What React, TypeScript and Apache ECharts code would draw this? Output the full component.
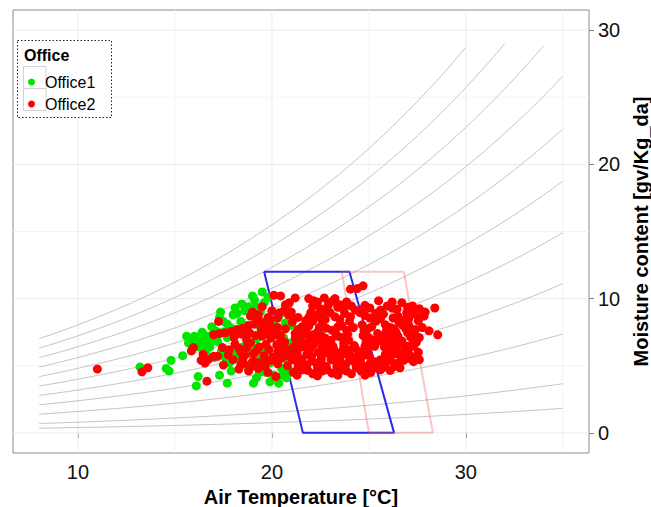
import React, { useEffect, useRef } from "react";
import * as echarts from "echarts";

// Psychrometric background: saturation vapour pressure (Pa) per air temperature (°C)
const tempGrid = [8, 9, 10, 11, 12, 13, 14, 15, 16, 17, 18, 19, 20, 21, 22, 23, 24, 25, 26, 27, 28, 29, 30, 31, 32, 33, 34, 35];
const satPressure = [1071, 1146, 1226, 1311, 1400, 1495, 1596, 1702, 1815, 1934, 2060, 2193, 2334, 2482, 2639, 2804, 2978, 3162, 3355, 3559, 3774, 3999, 4237, 4486, 4749, 5024, 5314, 5617];
const atmPressure = 96000;
const rhLevels = [5, 10, 20, 30, 40, 50, 60, 70, 80, 90, 100];
const moistureCap = 30;

const xRange = [6.65, 36.35];
const yRange = [-1.5, 31.5];
const xTicks = [10, 20, 30];
const yTicks = [0, 10, 20, 30];
const majorGridX = [10, 20, 30];
const minorGridX = [15, 25, 35];
const majorGridY = [0, 10, 20, 30];
const minorGridY = [5, 15, 25];

const zoneBlue = [[19.6, 12], [24.0, 12], [26.3, 0], [21.6, 0], [19.6, 12]];
const zonePink = [[23.6, 12], [26.8, 12], [28.3, 0], [25.0, 0], [23.6, 12]];

const office1 = [
  [13.2, 4.9], [14.55, 4.8], [14.7, 4.6], [14.8, 5.4], [15.4, 5.75], [16.2, 4.2], [16.1, 3.5], [17.3, 4.3], [17.7, 3.7],
  [19.05, 3.7], [19.2, 4.1], [19.9, 3.8], [20.35, 3.7], [20.75, 4.1], [20.1, 4.3], [18.8, 4.8],
  [15.8, 7.0], [15.9, 6.8], [16.0, 7.2], [16.1, 6.9], [16.3, 7.1], [15.7, 6.7], [16.4, 6.6], [16.2, 6.4], [15.9, 6.5],
  [16.6, 7.2], [16.7, 6.8], [16.8, 6.4], [17.0, 6.9], [17.2, 6.8], [17.4, 6.1], [17.7, 7.1], [17.3, 8.6], [17.7, 8.1],
  [18.0, 8.8], [18.4, 8.3], [18.6, 9.1], [18.1, 6.1], [18.2, 5.6], [17.8, 5.2], [17.5, 7.5], [17.9, 7.8], [18.3, 7.4],
  [18.6, 8.0], [18.9, 8.7], [19.1, 9.9], [19.5, 10.5], [19.2, 9.4], [19.6, 9.7], [19.8, 10.1], [19.4, 9.0], [18.8, 9.4],
  [17.1, 7.6], [16.9, 7.9], [17.5, 8.3], [18.2, 8.9], [16.6, 5.9], [17.0, 5.6], [17.6, 5.6], [18.5, 6.4], [18.8, 5.9],
  [19.1, 6.3], [19.3, 5.5], [19.6, 6.0], [19.9, 5.2], [20.2, 5.6], [20.5, 4.8], [20.9, 4.6], [19.5, 4.8], [19.7, 4.5],
  [18.9, 5.1], [20.3, 6.6], [20.6, 7.1], [20.0, 7.6], [19.7, 8.3], [20.4, 8.8], [20.8, 9.3], [21.0, 8.0], [21.2, 6.2],
  [20.7, 5.6], [19.2, 7.0], [18.7, 7.2], [19.4, 7.9], [20.1, 8.3], [16.4, 7.5], [16.9, 7.3], [18.1, 9.3], [17.9, 4.6],
  [19.35, 4.5], [20.55, 4.3], [16.5, 6.2], [15.6, 7.2], [17.35, 9.0], [18.45, 9.6], [19.0, 10.2], [20.7, 8.2], [20.85, 6.7]
];

const office2 = [
  // scattered left part
  [11.0, 4.75], [13.3, 4.55], [13.6, 4.85], [15.85, 6.1], [15.95, 6.35], [16.35, 5.4], [16.55, 5.2], [16.45, 5.85],
  [16.7, 5.45], [17.0, 5.7], [17.2, 5.7], [17.5, 5.05], [18.0, 5.45], [16.65, 3.85], [17.25, 8.3],
  [17.0, 7.3], [17.3, 7.4], [17.6, 7.45], [17.9, 7.55], [18.2, 7.7], [18.5, 7.8], [18.8, 8.0], [19.1, 8.1], [19.4, 8.3],
  [18.3, 6.3], [18.6, 5.8], [18.8, 4.6], [19.3, 4.8], [19.6, 5.3], [18.4, 5.1], [18.9, 6.7], [19.2, 6.1], [19.5, 7.2],
  [19.7, 6.6], [19.9, 7.7], [18.7, 6.9], [18.1, 6.6], [17.8, 6.2], [18.5, 5.5], [19.0, 5.3], [19.8, 4.5], [20.2, 4.2],
  [20.0, 9.1], [19.8, 8.6], [19.5, 9.4], [19.0, 9.0], [18.9, 8.7], [19.3, 8.8],
  [18.4, 6.0], [18.7, 6.35], [19.05, 5.9], [19.35, 6.4], [19.6, 5.75], [19.85, 6.2], [18.55, 5.15], [18.95, 4.95],
  [19.25, 5.25], [19.65, 4.95], [19.95, 5.4], [18.3, 4.75], [17.75, 5.8], [17.45, 6.35], [18.05, 7.1], [18.45, 7.35],
  [18.85, 7.45], [19.15, 7.25], [19.45, 7.65], [19.75, 7.35], [19.65, 8.0], [19.9, 8.5], [19.2, 8.55],
  // main body
  [20.45, 10.2], [20.9, 9.7], [21.2, 10.05], [21.9, 10.0], [22.35, 9.75], [22.7, 10.05], [23.1, 9.8],
  [23.5, 9.55], [22.1, 9.45], [23.85, 9.75], [25.5, 9.85], [26.2, 9.75], [24.05, 10.7], [24.4, 10.75], [24.7, 10.95], [20.1, 10.25],
  [20.65, 9.15], [22.5, 9.25], [23.0, 8.95], [23.4, 9.35], [24.1, 9.45], [24.55, 8.95],
  [25.05, 9.3], [25.35, 8.9], [25.95, 9.45], [26.45, 9.2], [26.95, 8.95], [27.6, 9.25], [28.4, 9.3], [27.25, 9.45],
  [24.8, 9.5], [26.7, 9.7], [22.9, 9.5],
  [20.3, 8.55], [20.85, 8.8], [21.35, 8.6], [21.75, 8.35], [22.25, 8.8], [22.75, 8.45], [23.25, 8.65], [23.75, 8.9],
  [24.8, 8.75], [25.35, 8.3], [25.75, 8.85], [26.25, 8.55], [26.8, 8.4], [27.3, 8.85], [27.85, 8.7], [27.55, 8.35],
  [21.05, 8.25], [21.55, 7.9], [22.1, 8.3], [22.45, 7.85], [23.6, 8.0], [24.0, 8.3],
  [24.65, 8.05], [25.15, 7.9], [26.1, 7.85], [26.55, 8.25], [27.05, 8.0], [27.75, 7.85], [19.9, 8.1],
  [20.15, 7.55], [20.7, 7.75], [21.2, 7.4], [21.75, 7.65], [22.35, 7.5], [22.8, 7.8], [23.3, 7.35], [23.85, 7.65],
  [24.95, 7.75], [25.45, 7.4], [25.9, 7.6], [26.4, 7.5], [26.9, 7.75], [27.35, 7.35], [28.55, 7.3],
  [19.95, 7.05], [20.45, 7.25], [21.45, 7.15], [21.95, 7.0], [22.55, 7.25], [23.05, 6.9], [23.6, 7.1],
  [24.7, 7.25], [25.2, 6.9], [25.75, 7.15], [26.25, 7.0], [26.7, 6.85], [27.15, 7.15],
  [20.25, 6.55], [20.65, 6.75], [21.15, 6.45], [21.6, 6.7], [22.15, 6.55], [22.65, 6.75], [23.15, 6.45], [23.7, 6.65],
  [24.25, 6.5], [24.85, 6.75], [25.3, 6.45], [25.85, 6.65], [26.35, 6.55], [26.95, 6.45], [27.45, 6.75],
  [20.3, 6.05], [20.85, 6.2], [21.3, 5.95], [21.85, 6.25], [22.4, 6.0], [22.95, 6.3], [23.4, 5.95], [23.95, 6.2],
  [24.5, 6.05], [24.95, 6.3], [26.05, 6.2], [26.6, 6.05], [27.05, 6.3], [27.55, 6.0],
  [20.05, 5.65], [20.5, 5.55], [21.0, 5.8], [21.55, 5.5], [22.05, 5.7], [22.55, 5.55], [23.0, 5.8], [23.5, 5.5],
  [24.05, 5.75], [24.6, 5.55], [25.0, 5.75], [25.6, 5.45], [26.1, 5.7], [26.65, 5.55], [27.1, 5.8], [27.6, 5.45],
  [20.3, 5.15], [20.8, 5.0], [21.3, 5.3], [21.8, 5.05], [22.3, 5.2], [22.8, 4.95], [23.3, 5.3], [23.8, 5.05],
  [24.3, 5.2], [24.8, 4.95], [25.3, 5.3], [25.8, 5.1], [26.3, 5.2], [26.8, 5.4], [27.3, 5.3],
  [21.1, 4.5], [21.6, 4.7], [22.1, 4.4], [22.6, 4.6], [23.1, 4.45], [23.6, 4.7], [24.1, 4.4], [24.6, 4.6],
  [25.1, 4.5], [25.6, 4.7], [26.1, 4.65], [26.6, 4.85], [21.3, 4.3], [23.4, 4.3], [24.8, 4.3], [22.35, 4.25],
  // filling between the rows
  [20.7, 9.55], [22.15, 9.85], [22.95, 9.65], [23.25, 10.0],
  [20.4, 8.95], [21.0, 9.0], [22.0, 8.95], [22.7, 9.05], [23.7, 9.2], [24.3, 9.15], [24.75, 9.3],
  [25.6, 9.15], [26.2, 9.3], [27.0, 9.35], [27.9, 9.0],
  [21.1, 8.5], [21.9, 8.6], [22.5, 8.55], [23.5, 8.45], [24.05, 8.65],
  [25.05, 8.55], [25.6, 8.5], [26.5, 8.7], [27.05, 8.5], [27.6, 8.6],
  [20.3, 7.85], [21.35, 7.7], [21.9, 7.95], [22.6, 8.1], [23.1, 7.65], [23.4, 7.9], [24.2, 7.85],
  [24.75, 7.6], [25.85, 8.05], [26.3, 7.75], [26.75, 8.0], [27.4, 7.7], [28.1, 7.6],
  [20.2, 7.3], [21.2, 7.05], [21.7, 7.35], [22.1, 7.3], [22.75, 7.05], [23.4, 7.2], [23.9, 7.35],
  [25.0, 7.1], [25.5, 7.3], [26.0, 7.35], [26.5, 7.2], [27.0, 7.45], [27.6, 7.1],
  [20.45, 6.85], [21.4, 6.85], [21.9, 6.7], [22.4, 6.9], [22.9, 6.6], [23.95, 6.9],
  [25.05, 6.55], [25.55, 6.85], [26.1, 6.8], [26.6, 6.7], [27.2, 6.55],
  [20.55, 6.35], [21.05, 6.25], [21.55, 6.4], [22.0, 6.3], [22.6, 6.4], [23.2, 6.2], [23.7, 6.35], [24.3, 6.3],
  [24.8, 6.45], [25.8, 6.4], [26.35, 6.3], [26.85, 6.2], [27.3, 6.45],
  [20.35, 5.85], [20.8, 5.75], [21.3, 5.6], [21.8, 5.85], [22.8, 6.0], [23.25, 5.65], [23.75, 5.9],
  [24.3, 5.6], [24.85, 5.85], [25.85, 5.85], [26.35, 5.9], [26.9, 5.7], [27.35, 5.6],
  [21.05, 5.45], [21.55, 5.2], [22.05, 5.35], [22.55, 5.2], [23.05, 5.45], [23.55, 5.25], [24.0, 5.4],
  [24.55, 5.3], [25.05, 5.15], [25.55, 5.35], [26.05, 5.4], [26.55, 5.15], [27.05, 5.55], [27.5, 5.6],
  [21.35, 4.9], [21.85, 4.65], [22.35, 4.85], [22.85, 4.7], [23.35, 4.9], [23.85, 4.6], [24.35, 4.85],
  [24.85, 4.7], [25.35, 4.85], [25.85, 4.9], [26.35, 4.95]
];

const FONT = "'Liberation Sans', Arial, Helvetica, sans-serif";

function gridLines(values: number[], vertical: boolean, color: string) {
  return values.map((v) => ({
    type: "line",
    data: vertical ? [[v, yRange[0]], [v, yRange[1]]] : [[xRange[0], v], [xRange[1], v]],
    showSymbol: false,
    silent: true,
    lineStyle: { color, width: 1 },
    z: 0,
  }));
}

export default function App() {
  const ref = useRef<HTMLDivElement>(null);
  useEffect(() => {
    if (!ref.current) return;
    const chart = echarts.init(ref.current, undefined, { renderer: "svg" });

    const curves = rhLevels.map((rh) => ({
      type: "line",
      name: "RH" + rh,
      data: tempGrid
        .map((t, i) => {
          const pv = (rh / 100) * satPressure[i];
          return [t, (622 * pv) / (atmPressure - pv)];
        })
        .filter((p) => p[1] <= moistureCap),
      showSymbol: false,
      smooth: 0.3,
      silent: true,
      lineStyle: { color: "#c4c4c4", width: 1 },
      z: 1,
    }));

    chart.setOption({
      animation: false,
      backgroundColor: "#ffffff",
      textStyle: { fontFamily: FONT },
      grid: {
        left: 13,
        right: 62,
        top: 10,
        bottom: 54,
        containLabel: false,
        outerBoundsMode: "none",
        show: true,
        borderColor: "#8c8c8c",
        borderWidth: 1,
        backgroundColor: "transparent",
      },
      xAxis: {
        type: "value",
        min: xRange[0],
        max: xRange[1],
        name: "Air Temperature [°C]",
        nameLocation: "middle",
        nameGap: 26,
        nameTextStyle: { fontSize: 20, fontWeight: "bold", color: "#000", fontFamily: FONT },
        axisLine: { show: false },
        splitLine: { show: false },
        axisTick: { show: true, length: 5, customValues: xTicks, lineStyle: { color: "#7f7f7f" } },
        axisLabel: { customValues: xTicks, fontSize: 20, color: "#111", margin: 9, fontFamily: FONT },
      },
      yAxis: {
        type: "value",
        position: "right",
        min: yRange[0],
        max: yRange[1],
        name: "Moisture content [gv/Kg_da]",
        nameLocation: "middle",
        nameRotate: 90,
        nameGap: 37,
        nameTextStyle: { fontSize: 20, fontWeight: "bold", color: "#000", fontFamily: FONT },
        axisLine: { show: false },
        splitLine: { show: false },
        axisTick: { show: true, length: 5, customValues: yTicks, lineStyle: { color: "#7f7f7f" } },
        axisLabel: { customValues: yTicks, fontSize: 20, color: "#111", margin: 9, fontFamily: FONT },
      },
      legend: {
        show: true,
        data: ["Office1", "Office2"],
        orient: "vertical",
        left: 23,
        top: 66,
        itemWidth: 23,
        itemHeight: 7,
        itemGap: 0,
        icon: "circle",
        selectedMode: false,
        textStyle: { fontSize: 16, color: "#000", lineHeight: 22, fontFamily: FONT, padding: [0, 0, 0, -3] },
        z: 10,
      },
      graphic: [
        {
          type: "rect",
          shape: { x: 17.5, y: 40.5, width: 94, height: 77 },
          style: { fill: "#fff", stroke: "#222", lineWidth: 1, lineDash: [1.5, 2] },
          z: 5,
        },
        {
          type: "rect",
          shape: { x: 23.5, y: 66.5, width: 22.5, height: 22 },
          style: { fill: "#fff", stroke: "#d2d2d2", lineWidth: 1 },
          z: 6,
        },
        {
          type: "rect",
          shape: { x: 23.5, y: 88.5, width: 22.5, height: 22 },
          style: { fill: "#fff", stroke: "#d2d2d2", lineWidth: 1 },
          z: 6,
        },
        {
          type: "text",
          x: 24,
          y: 55,
          style: {
            text: "Office",
            font: "bold 16px " + FONT,
            fill: "#000",
            verticalAlign: "middle",
          },
          z: 7,
        },
      ],
      series: [
        ...gridLines(minorGridX, true, "#f4f4f4"),
        ...gridLines(minorGridY, false, "#f4f4f4"),
        ...gridLines(majorGridX, true, "#ebebeb"),
        ...gridLines(majorGridY, false, "#ebebeb"),
        ...curves,
        {
          type: "line",
          name: "zoneBlue",
          data: zoneBlue,
          showSymbol: false,
          silent: true,
          lineStyle: { color: "#2a2ae8", width: 2 },
          z: 2,
        },
        {
          type: "line",
          name: "zonePink",
          data: zonePink,
          showSymbol: false,
          silent: true,
          lineStyle: { color: "rgba(240,90,90,0.35)", width: 2 },
          z: 2,
        },
        {
          type: "scatter",
          name: "Office1",
          data: office1,
          symbolSize: 9,
          itemStyle: { color: "#00e600", opacity: 1 },
          z: 3,
        },
        {
          type: "scatter",
          name: "Office2",
          data: office2,
          symbolSize: 9,
          itemStyle: { color: "#ff0000", opacity: 1 },
          z: 4,
        },
      ],
    });
    return () => chart.dispose();
  }, []);

  return (
    <div
      ref={ref}
      style={{ position: "absolute", left: 0, top: 0, width: 651, height: 507, background: "#fff" }}
    />
  );
}
